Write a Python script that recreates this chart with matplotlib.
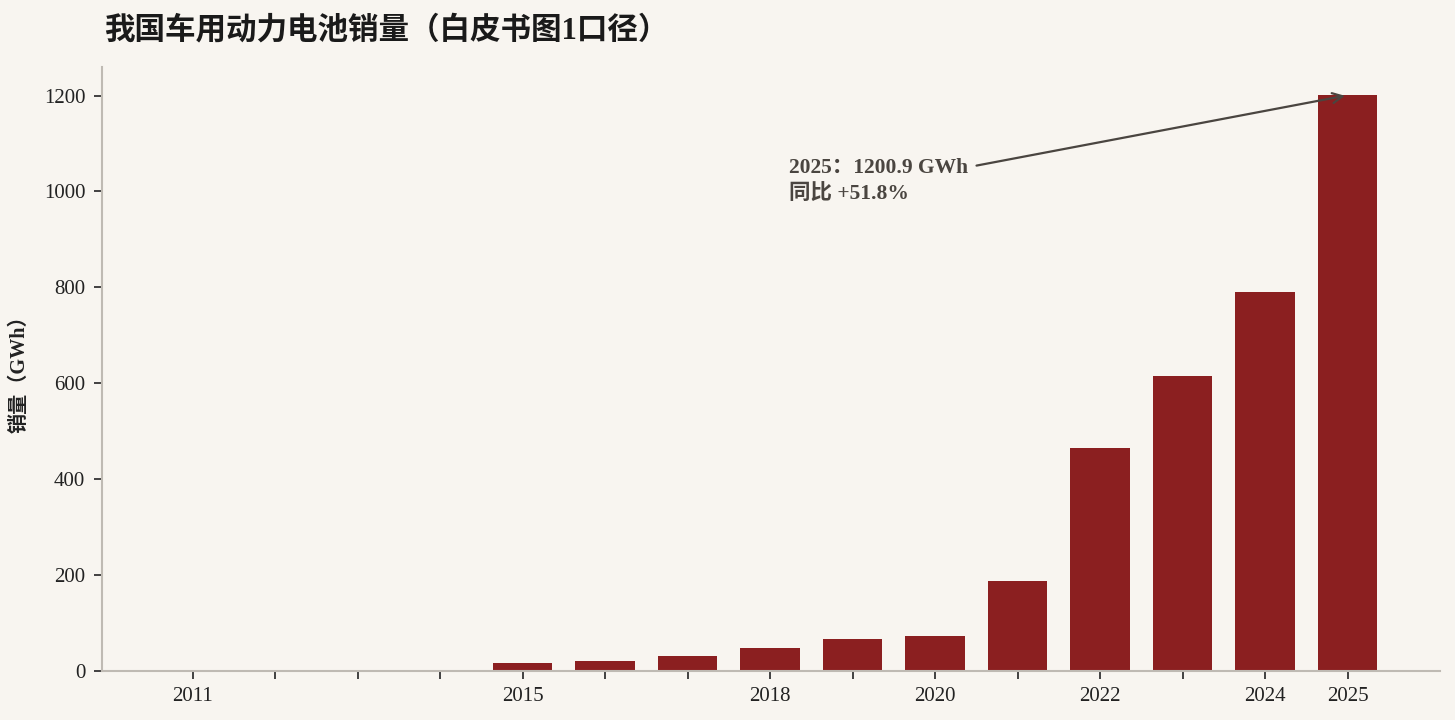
import matplotlib
matplotlib.use("Agg")
import matplotlib.pyplot as plt

years = [2011, 2012, 2013, 2014, 2015, 2016, 2017, 2018, 2019, 2020, 2021, 2022, 2023, 2024, 2025]
sales = [0.1, 0.2, 0.3, 2.0, 15.7, 20.5, 30.0, 47.0, 66.0, 72.0, 187.0, 464.5, 615.0, 790.0, 1200.9]
labeled_years = [2011, 2015, 2018, 2020, 2022, 2024, 2025]
tick_labels = [str(y) if y in labeled_years else "" for y in years]
yticks = [0, 200, 400, 600, 800, 1000, 1200]

title = "我国车用动力电池销量（白皮书图1口径）"
ylabel = "销量（GWh）"
annot = "2025：1200.9 GWh\n同比 +51.8%"

FAM = ["Liberation Serif", "Noto Sans CJK SC", "DejaVu Sans"]
plt.rcParams["font.family"] = FAM

bg = "#f8f5f0"
bar_color = "#8b1f20"

fig = plt.figure(figsize=(14.55, 7.2), dpi=100, facecolor=bg)
ax = fig.add_axes([0.0701, 0.06875, 0.9196, 0.8383])
ax.set_facecolor(bg)

ax.bar(years, sales, width=0.72, color=bar_color, zorder=2)

ax.set_xlim(2009.9, 2026.12)
ax.set_ylim(0, 1260)
ax.set_xticks(years)
ax.set_xticklabels(tick_labels)
ax.set_yticks(yticks)

for s in ["top", "right"]:
    ax.spines[s].set_visible(False)
for s in ["left", "bottom"]:
    ax.spines[s].set_color("#bfbab3")
    ax.spines[s].set_linewidth(1.5)

ax.tick_params(axis="both", direction="out", length=6, width=1.3, color="#333333",
               labelsize=15, labelcolor="#222222", pad=6)
for lab in ax.get_xticklabels() + ax.get_yticklabels():
    lab.set_fontweight("normal")

ax.set_ylabel(ylabel, fontsize=14.5, fontweight="bold", color="#222222", labelpad=10)
fig.text(0.0715, 0.957, title, fontsize=22, fontweight="bold", color="#1a1a1a",
         ha="left", va="center")

ax.annotate(annot, xy=(2025, 1200.9), xytext=(2018.23, 1021),
            ha="left", va="center", fontsize=15.5, fontweight="bold", color="#4a4540",
            linespacing=1.5,
            arrowprops=dict(arrowstyle="->", color="#4a4540", lw=1.6,
                            relpos=(1.0, 0.8), shrinkA=4, shrinkB=2,
                            mutation_scale=18))

fig.savefig("out.png", dpi=100, facecolor=bg)
